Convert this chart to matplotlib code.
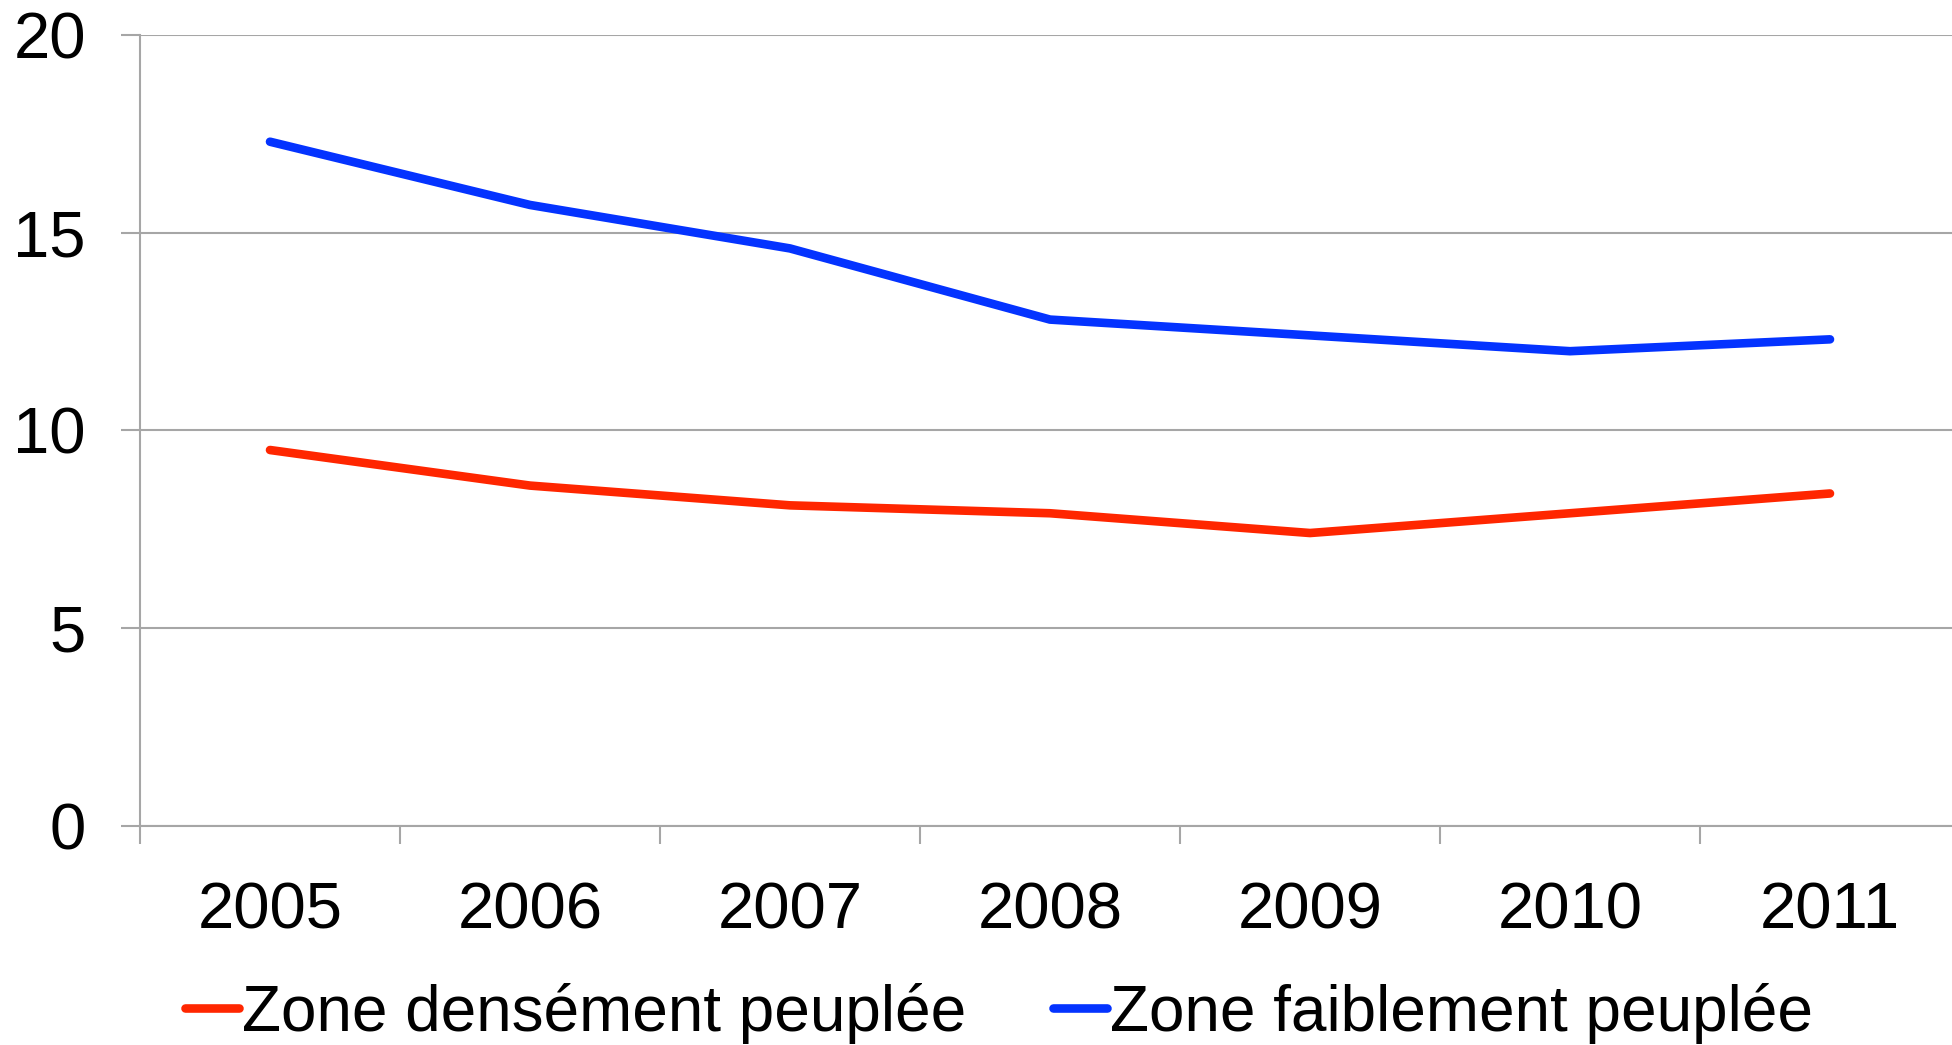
import matplotlib
matplotlib.use("Agg")
import matplotlib.pyplot as plt

plt.rcParams['font.family'] = ['Liberation Sans', 'DejaVu Sans']

years = ["2005", "2006", "2007", "2008", "2009", "2010", "2011"]
dense = [9.5, 8.6, 8.1, 7.9, 7.4, 7.9, 8.4]
sparse = [17.3, 15.7, 14.6, 12.8, 12.4, 12.0, 12.3]
labels = ["Zone densément peuplée", "Zone faiblement peuplée"]

grid_col = "#a6a6a6"

fig = plt.figure(figsize=(19.52, 10.45), dpi=100)
ax = fig.add_axes([140 / 1952, 1 - 825.5 / 1045, 1820 / 1952, 790.5 / 1045])

x = range(len(years))
ax.plot(x, dense, color="#ff2600", lw=6.2, solid_capstyle="round",
        solid_joinstyle="round", label=labels[0], clip_on=False)
ax.plot(x, sparse, color="#0433ff", lw=6.2, solid_capstyle="round",
        solid_joinstyle="round", label=labels[1], clip_on=False)

ax.set_xlim(-0.5, len(years) - 0.5)
ax.set_ylim(0, 20)
ax.set_yticks([0, 5, 10, 15, 20])
ax.yaxis.grid(True, color=grid_col, lw=1.5)
ax.set_axisbelow(True)

# category boundaries carry the tick marks, labels sit in between
ax.set_xticks([i - 0.5 for i in range(len(years) + 1)])
ax.set_xticklabels([])
ax.set_xticks(list(x), minor=True)
ax.set_xticklabels(years, minor=True)
ax.tick_params(axis="x", which="major", length=13, width=1.5, color=grid_col)
ax.tick_params(axis="x", which="minor", length=0, pad=40, labelsize=47)
ax.tick_params(axis="y", length=14, width=1.5, color=grid_col, pad=25, labelsize=47)

for s in ["top", "right"]:
    ax.spines[s].set_visible(False)
for s in ["left", "bottom"]:
    ax.spines[s].set_color(grid_col)
    ax.spines[s].set_linewidth(1.5)

leg = fig.legend(loc="center", bbox_to_anchor=(999 / 1952, 1 - 1013 / 1045),
                 ncol=2, frameon=False, fontsize=46, handlelength=0.85,
                 handletextpad=0.05, columnspacing=1.35)
for h in leg.get_lines():
    h.set_solid_capstyle("round")

fig.savefig("out.png", dpi=100)
